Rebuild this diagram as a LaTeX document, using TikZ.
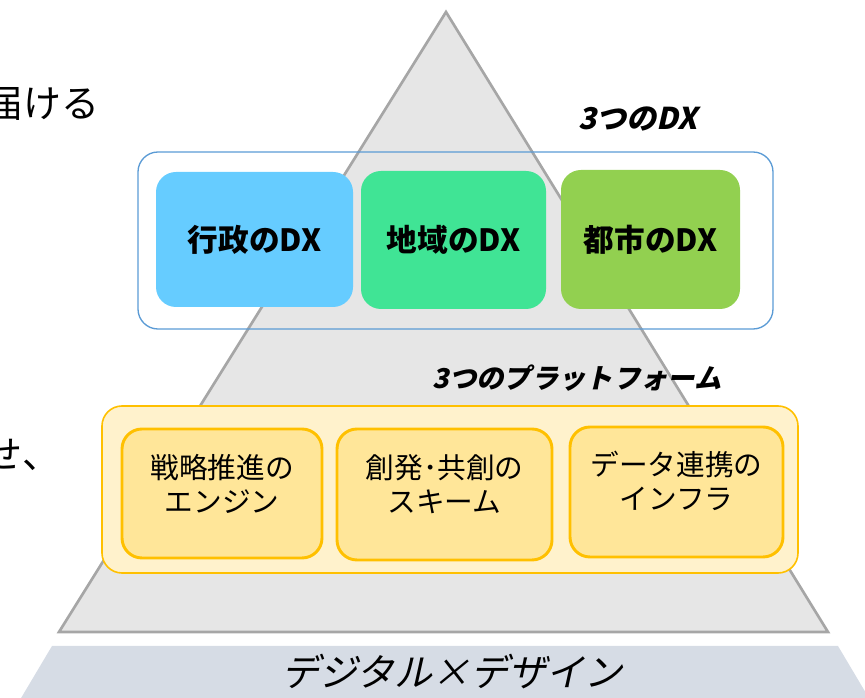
\documentclass[tikz,border=0pt]{standalone}
\usepackage{fontspec}
\setmainfont{Noto Sans CJK JP}
\newfontfamily\jpslant{Noto Sans CJK JP}[FakeSlant=0.22]

\definecolor{pyramidfill}{HTML}{E6E6E6}
\definecolor{pyramidline}{HTML}{A6A6A6}
\definecolor{bandfill}{HTML}{D6DCE5}
\definecolor{frameblue}{HTML}{5B9BD5}
\definecolor{dxblue}{HTML}{66CCFF}
\definecolor{dxgreen}{HTML}{40E495}
\definecolor{dxlime}{HTML}{92D050}
\definecolor{pfouter}{HTML}{FFF2CC}
\definecolor{pfinner}{HTML}{FFE699}
\definecolor{pfline}{HTML}{FFC000}

\tikzset{every picture/.style={line width=0.75pt}}
\tikzset{
  dxbox/.style={rounded corners=15pt, inner sep=0pt, font=\bfseries\fontsize{23}{27}\selectfont},
  pfbox/.style={rounded corners=15pt, draw=pfline, fill=pfinner, line width=2.2pt, inner sep=0pt},
  pftext/.style={inner sep=0.75pt, align=center, font=\fontsize{21.5}{25}\selectfont},
  headtext/.style={inner sep=0.75pt, font=\jpslant\bfseries\fontsize{22.5}{26}\selectfont},
}

\begin{document}
\begin{tikzpicture}[x=0.75pt,y=0.75pt,yscale=-1,xscale=1]
\useasboundingbox (0,0) rectangle (865,698);
\clip (0,0) rectangle (865,698);

% base band
\fill [bandfill] (52,646) -- (838,646) -- (882,720) -- (8,720) -- cycle ;
\draw (452,672) node [inner sep=0.75pt, font=\jpslant\fontsize{28.5}{32}\selectfont] (base) {デジタル×デザイン};

% pyramid
\draw [pyramidline, fill=pyramidfill, line width=2pt] (446,12) -- (828,632) -- (59,632) -- cycle ;

% text cut off at the left edge
\draw (100,104) node [anchor=east] [inner sep=0pt, font=\fontsize{28.5}{32}\selectfont] (todokeru) {届ける};
\draw (61,455) node [anchor=east] [inner sep=0pt, font=\fontsize{28.5}{32}\selectfont] (se) {せ、};

% three DX
\draw (638,119) node [headtext] (dxhead) {3つのDX};
\draw (455.5,240.5) node [draw=frameblue, rounded corners=15pt, line width=1pt, minimum width=476.25pt, minimum height=132.75pt] (dxframe) {};

\draw (254.5,239.5) node [dxbox, fill=dxblue, minimum width=147.75pt, minimum height=101.25pt] (gyosei) {行政のDX};
\draw (453.5,240) node [dxbox, fill=dxgreen, minimum width=138.75pt, minimum height=103.5pt] (chiiki) {地域のDX};
\draw (650.5,239.5) node [dxbox, fill=dxlime, minimum width=134.25pt, minimum height=104.25pt] (toshi) {都市のDX};

% three platforms
\draw (577,378) node [headtext, font=\jpslant\bfseries\fontsize{20.5}{24}\selectfont] (pfhead) {3つのプラットフォーム};
\draw (450,489.5) node [draw=pfline, fill=pfouter, rounded corners=15pt, line width=1.2pt, minimum width=522pt, minimum height=125.25pt] (pfframe) {};

\draw (222,493.5) node [pfbox, minimum width=150pt, minimum height=96.75pt] (engine) {};
\draw (444.5,494.5) node [pfbox, minimum width=161.25pt, minimum height=98.25pt] (scheme) {};
\draw (676.5,492) node [pfbox, minimum width=159.75pt, minimum height=97.5pt] (infra) {};

\draw (222,484) node [pftext] (enginetext) {戦略推進の\\エンジン};
\draw (444.5,484) node [pftext] (schemetext) {創発･共創の\\スキーム};
\draw (676.5,481) node [pftext] (infratext) {データ連携の\\インフラ};

\end{tikzpicture}
\end{document}
